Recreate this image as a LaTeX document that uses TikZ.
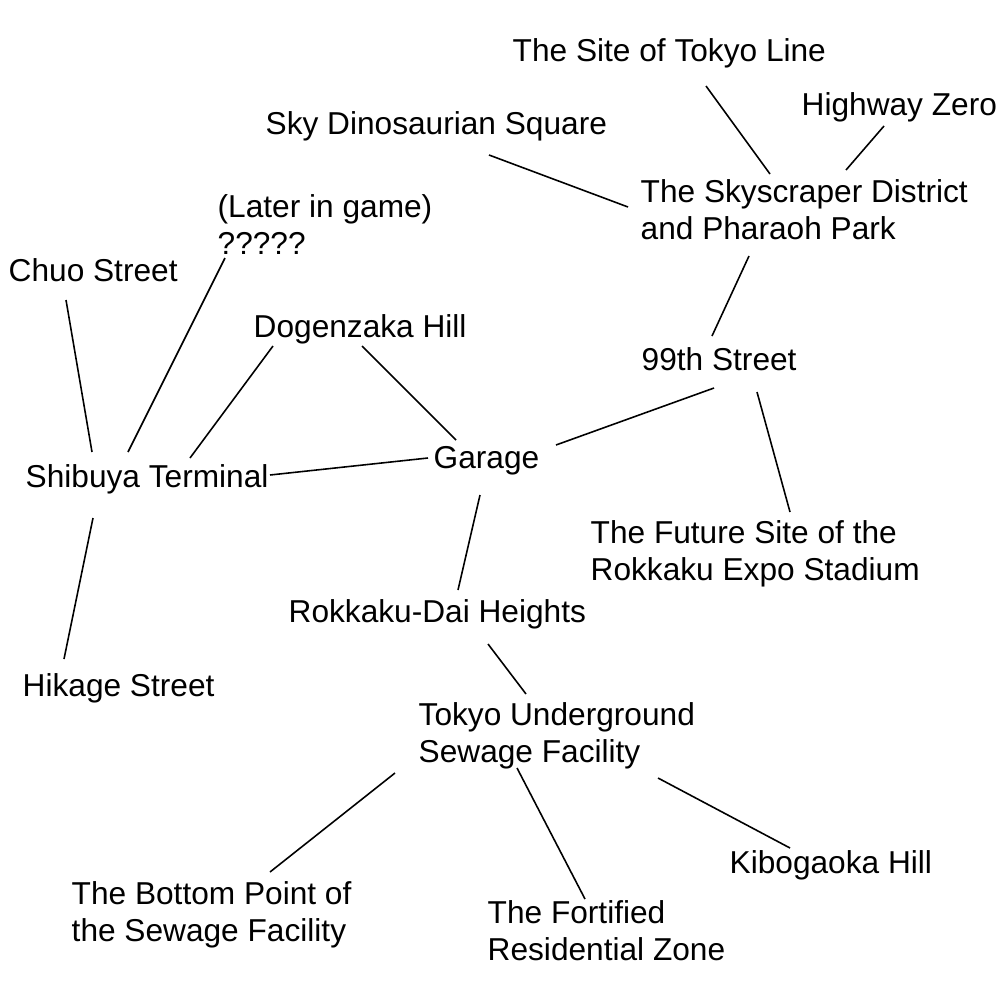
\documentclass[tikz,border=0pt]{standalone}
\usepackage{fontspec}
\setmainfont{Liberation Sans}
\begin{document}
\begin{tikzpicture}[x=0.01cm, y=-0.01cm,
    lieu/.style={anchor=base west, inner sep=0pt, align=left, font=\fontsize{9}{10.4}\selectfont},
    lien/.style={line width=0.45pt}]
        \useasboundingbox (0,0) rectangle (1000,1000);

        % Quartier des gratte-ciel (base = derniere ligne)
        \node[lieu] (tokyoline) at (512,61) {The Site of Tokyo Line};
        \node[lieu] (highway) at (801,115) {Highway Zero};
        \node[lieu] (skydino) at (265,134) {Sky Dinosaurian Square};
        \node[lieu] (skyscraper) at (640,239) {The Skyscraper District\\and Pharaoh Park};
        \node[lieu] (ninety) at (641,370) {99th Street};
        \node[lieu] (future) at (590,580) {The Future Site of the\\Rokkaku Expo Stadium};

        % Shibuya
        \node[lieu] (later) at (217,254) {(Later in game)\\?????};
        \node[lieu] (chuo) at (8,281) {Chuo Street};
        \node[lieu] (dogen) at (253,337) {Dogenzaka Hill};
        \node[lieu] (garage) at (433,468) {Garage};
        \node[lieu] (shibuya) at (25,487) {Shibuya Terminal};
        \node[lieu] (hikage) at (22,696) {Hikage Street};

        % Egouts
        \node[lieu] (rokkaku) at (288,622) {Rokkaku-Dai Heights};
        \node[lieu] (sewage) at (418,762) {Tokyo Underground\\Sewage Facility};
        \node[lieu] (kibo) at (729,873) {Kibogaoka Hill};
        \node[lieu] (bottom) at (71,941) {The Bottom Point of\\the Sewage Facility};
        \node[lieu] (fortified) at (487,960) {The Fortified\\Residential Zone};

        % Liens
        \draw[lien] ([shift={(194,25)}]tokyoline.base west) -- ([shift={(130,-65)}]skyscraper.base west);
        \draw[lien] ([shift={(83,11)}]highway.base west) -- ([shift={(206,-69)}]skyscraper.base west);
        \draw[lien] ([shift={(224,21)}]skydino.base west) -- ([shift={(-12,-32)}]skyscraper.base west);
        \draw[lien] ([shift={(109,17)}]skyscraper.base west) -- ([shift={(71,-34)}]ninety.base west);
        \draw[lien] ([shift={(73,18)}]ninety.base west) -- ([shift={(123,-23)}]garage.base west);
        \draw[lien] ([shift={(116,22)}]ninety.base west) -- ([shift={(200,-68)}]future.base west);
        \draw[lien] ([shift={(58,19)}]chuo.base west) -- ([shift={(67,-35)}]shibuya.base west);
        \draw[lien] ([shift={(8,4)}]later.base west) -- ([shift={(103,-35)}]shibuya.base west);
        \draw[lien] ([shift={(20,9)}]dogen.base west) -- ([shift={(165,-29)}]shibuya.base west);
        \draw[lien] ([shift={(109,9)}]dogen.base west) -- ([shift={(23,-28)}]garage.base west);
        \draw[lien] ([shift={(245,-12)}]shibuya.base west) -- ([shift={(-5,-10)}]garage.base west);
        \draw[lien] ([shift={(68,31)}]shibuya.base west) -- ([shift={(42,-37)}]hikage.base west);
        \draw[lien] ([shift={(47,27)}]garage.base west) -- ([shift={(170,-32)}]rokkaku.base west);
        \draw[lien] ([shift={(200,22)}]rokkaku.base west) -- ([shift={(108,-68)}]sewage.base west);
        \draw[lien] ([shift={(-23,11)}]sewage.base west) -- ([shift={(199,-69)}]bottom.base west);
        \draw[lien] ([shift={(99,6)}]sewage.base west) -- ([shift={(98,-61)}]fortified.base west);
        \draw[lien] ([shift={(240,16)}]sewage.base west) -- ([shift={(61,-25)}]kibo.base west);
\end{tikzpicture}
\end{document}
